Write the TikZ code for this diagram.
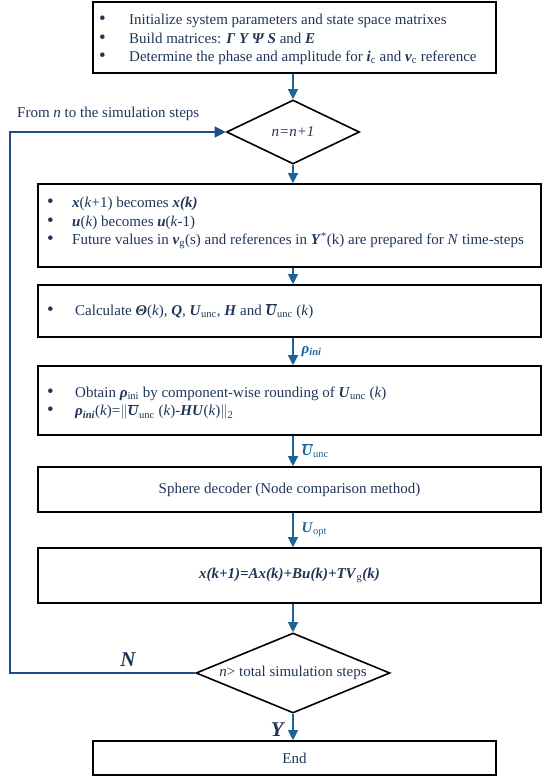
\documentclass[tikz,border=0pt]{standalone}
\usepackage{fontspec}
\setmainfont{Liberation Serif}
\usepackage{xcolor}
\usetikzlibrary{shapes.geometric,arrows.meta,positioning}
\definecolor{txtB}{HTML}{1F3556}
\definecolor{arrB}{HTML}{1D6496}
\definecolor{loopB}{HTML}{1F4E82}
\newcommand{\bi}[1]{\textbf{\textit{#1}}}
\newcommand{\bul}{{\fontsize{19}{17}\selectfont\textbullet}}
\newcommand{\blist}[2]{\def\arraystretch{1.0}\begin{tabular}{@{}p{#1}@{}l@{}}#2\end{tabular}}
\newcommand{\Ubar}{$\overline{\mbox{\bi{U}}}$}

\begin{document}
\begin{tikzpicture}[x=1pt,y=-1pt, font=\fontsize{15}{18.5}\selectfont, text=txtB,
  box/.style={draw=black, line width=1.6pt, minimum width=503pt, inner sep=0pt, align=center},
  dec/.style={diamond, draw=black, line width=1.6pt, inner sep=0pt},
  list/.style={anchor=west, inner sep=0pt, align=left},
  arr/.style={-{Triangle[length=10pt,width=10pt]}, line width=1.2pt, draw=arrB},
  back/.style={-{Triangle[length=11pt,width=11pt]}, line width=1.2pt, draw=loopB},
  lab/.style={text=arrB, inner sep=0pt, anchor=west, xshift=8pt},
  yn/.style={font=\fontsize{21}{24}\selectfont\bfseries\itshape, inner sep=0pt},
  ]
\useasboundingbox (0,0) rectangle (543,778);
% ---- start and counter
\node[box, minimum width=403pt, minimum height=71pt] (init) at (294.5,37.5) {};
\node[list] (initT) at (99,39.5) {\blist{30pt}{%
  \bul & Initialize system parameters and state space matrixes\\
  \bul & Build matrices: \bi{Γ Y Ψ S} and \bi{E}\\
  \bul & Determine the phase and amplitude for \bi{i}\textsubscript{c} and \bi{v}\textsubscript{c} reference}};
\node[dec, aspect=2.1, minimum width=133pt, minimum height=64pt] (inc) at (293,132) {\textit{n=n+1}};
% ---- the steps of one round
\node[box, minimum height=83pt] (shift) at (289.5,225.5) {};
\node[list] (shiftT) at (47,222.5) {\blist{25pt}{%
  \bul & \bi{x}(\textit{k}+1) becomes \bi{x(k)}\\
  \bul & \bi{u}(\textit{k}) becomes \bi{u}(\textit{k}-1)\\
  \bul & Future values in \bi{v}\textsubscript{g}(s) and references in \bi{Y}\textsuperscript{*}(k) are prepared for \textit{N} time-steps}};
\node[box, minimum height=52pt] (calc) at (289.5,311) {};
\node[list] (calcT) at (47,312) {\blist{28pt}{%
  \bul & Calculate \bi{Θ}(\textit{k}), \bi{Q}, \bi{U}\textsubscript{unc}, \bi{H} and \Ubar\textsubscript{unc} (\textit{k})}};
\node[box, minimum height=69pt] (round) at (289.5,400.5) {};
\node[list] (roundT) at (47,403) {\blist{28pt}{%
  \bul & Obtain \bi{ρ}\textsubscript{ini} by component-wise rounding of \bi{U}\textsubscript{unc} (\textit{k})\\
  \bul & \bi{ρ\textsubscript{ini}}(\textit{k})=$\|$\Ubar\textsubscript{unc} (\textit{k})-\bi{HU}(\textit{k})$\|$\textsubscript{2}}};
\node[box, minimum height=45pt] (sphere) at (289.5,489.5) {Sphere decoder (Node comparison method)};
\node[box, minimum height=55pt] (update) at (289.5,575.5) {\bi{x(k+1)=Ax(k)+Bu(k)+TV}\textsubscript{g}\bi{(k)}};
% ---- the test and the end
\node[dec, aspect=2.45, minimum width=194pt, minimum height=80pt] (stop) at (293,673) {\textit{n}> total simulation steps};
\node[box, minimum width=403pt, minimum height=34pt] (end) at (294.5,758) {End};
% ---- connectors
\coordinate (ax) at (293,0);
\coordinate (lp) at (10,0);
\draw[arr] (init.south -| ax) -- (inc.north);
\draw[arr] (inc.south) -- (shift.north -| ax);
\draw[arr] (shift.south -| ax) -- (calc.north -| ax);
\draw[arr] (calc.south -| ax) -- node[lab] {\bi{ρ\textsubscript{ini}}} (round.north -| ax);
\draw[arr] (round.south -| ax) -- node[lab] {\Ubar\textsubscript{unc}} (sphere.north -| ax);
\draw[arr] (sphere.south -| ax) -- node[lab] {\bi{U}\textsubscript{opt}} (update.north -| ax);
\draw[arr] (update.south -| ax) -- (stop.north);
\draw[arr] (stop.south) -- (end.north -| ax);
\draw[back] (stop.west) -- (stop.west -| lp) |- (inc.west);
\node[anchor=west, inner sep=0pt] (from) at (17,114) {From \textit{n} to the simulation steps};
\node[yn] (no) at (128,660) {N};
\node[yn, anchor=east] (yes) at (284,730) {Y};
\end{tikzpicture}
\end{document}
